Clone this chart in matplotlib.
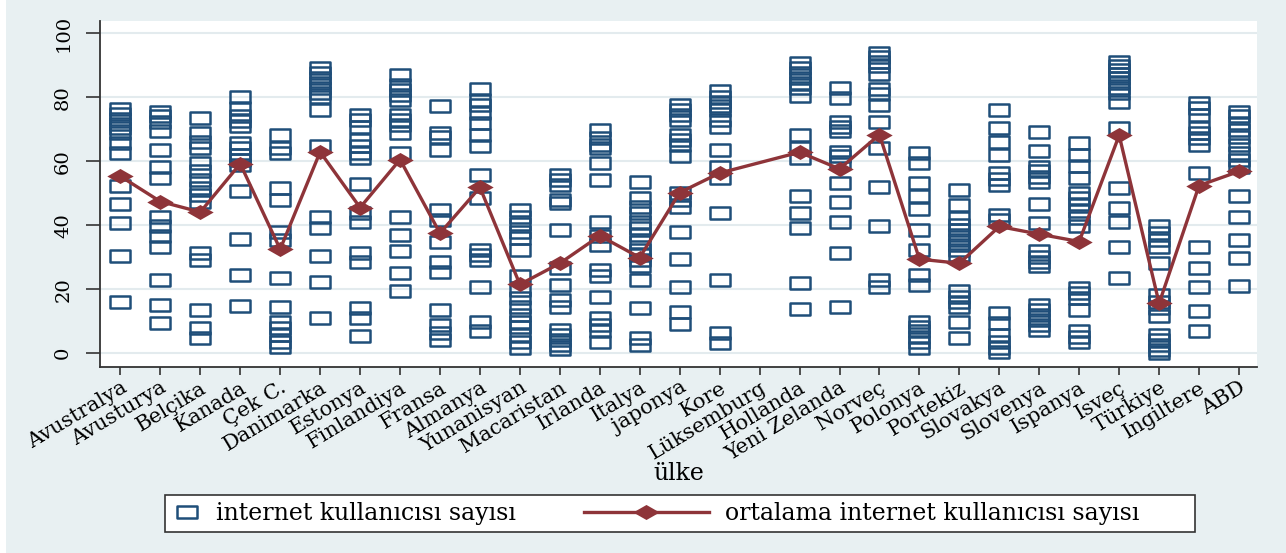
import numpy as np
import matplotlib.pyplot as plt
from matplotlib.path import Path
from matplotlib.patches import Rectangle
from matplotlib.lines import Line2D

plt.rcParams['font.family'] = ['DejaVu Serif']

ulkeler = ['Avustralya', 'Avusturya', 'Belçika', 'Kanada', 'Çek C.', 'Danimarka',
           'Estonya', 'Finlandiya', 'Fransa', 'Almanya', 'Yunanisyan', 'Macaristan',
           'Irlanda', 'Italya', 'japonya', 'Kore', 'Lüksemburg', 'Hollanda',
           'Yeni Zelanda', 'Norveç', 'Polonya', 'Portekiz', 'Slovakya', 'Slovenya',
           'Ispanya', 'Isveç', 'Türkiye', 'Ingiltere', 'ABD']

# internet kullanicisi sayisi
avustralya = [76.3, 74.7, 73.1, 71.6, 70.3, 68.8, 65.8, 62.7, 52.1, 46.6, 40.6, 30.5, 16.1]
avusturya = [75.5, 74.0, 72.4, 69.3, 63.5, 58.3, 54.7, 42.7, 39.6, 36.5, 33.3, 22.9, 15.1, 9.4]
belcika = [73.4, 68.8, 66.1, 64.1, 59.4, 56.8, 54.2, 51.6, 49.5, 47.1, 31.3, 29.2, 13.5, 7.8, 4.7]
kanada = [79.9, 76.6, 74.0, 72.6, 71.0, 65.6, 64.1, 62.0, 60.4, 58.9, 50.8, 35.7, 24.5, 14.8]
cek = [68.2, 64.1, 62.5, 51.6, 47.9, 38.0, 35.4, 23.6, 14.4, 9.9, 7.8, 5.7, 3.6, 2.1]
danimarka = [89.1, 87.5, 85.9, 84.4, 82.8, 81.3, 80.0, 76.0, 64.6, 42.7, 39.1, 30.4, 22.4, 11.1]
estonya = [74.5, 72.9, 70.8, 66.7, 64.6, 62.5, 60.9, 52.9, 43.8, 41.1, 31.3, 28.6, 14.1, 10.9, 5.4]
finlandiya = [87.0, 83.9, 82.3, 80.7, 79.2, 74.5, 72.9, 71.4, 68.8, 62.5, 42.7, 37.0, 32.0, 25.2, 19.3]
fransa = [77.1, 68.8, 67.5, 63.5, 44.8, 41.7, 34.9, 28.6, 25.5, 13.5, 8.9, 6.3, 4.2]
almanya = [82.5, 79.2, 77.6, 75.0, 71.9, 68.2, 64.6, 55.7, 48.6, 32.3, 30.7, 29.2, 20.8, 9.9, 6.8]
yunanistan = [44.8, 42.7, 40.4, 38.0, 35.9, 32.3, 24.0, 19.8, 17.2, 14.6, 12.0, 9.9, 8.3, 5.7, 3.6, 1.6]
macaristan = [55.7, 54.2, 52.6, 47.9, 46.9, 38.5, 26.6, 21.4, 16.7, 14.6, 7.3, 5.7, 4.2, 2.6, 1.3]
irlanda = [69.8, 67.2, 65.1, 64.1, 59.4, 54.0, 41.1, 36.5, 33.9, 26.0, 24.0, 17.7, 10.9, 8.9, 6.8, 3.6]
italya = [53.4, 48.4, 45.8, 43.8, 41.1, 39.1, 37.0, 34.9, 32.3, 30.7, 29.2, 27.1, 22.9, 14.1, 4.7, 2.6]
japonya = [77.6, 76.0, 74.5, 72.9, 68.2, 66.7, 65.1, 61.5, 50.0, 47.9, 45.8, 38.0, 29.4, 20.8, 13.0, 9.2]
kore = [81.8, 80.2, 78.6, 77.1, 76.0, 72.9, 70.8, 63.5, 58.3, 54.7, 43.8, 22.9, 6.3, 3.1]
luksemburg = []
hollanda = [90.6, 89.1, 87.5, 85.9, 84.4, 82.8, 80.4, 68.2, 64.1, 60.9, 49.0, 43.8, 39.1, 21.9, 13.8]
yeni_zelanda = [82.8, 79.7, 72.4, 70.8, 69.3, 63.0, 61.5, 59.9, 53.1, 47.1, 41.1, 31.3, 14.4]
norvec = [93.8, 92.5, 91.1, 89.8, 87.3, 82.5, 81.0, 77.6, 72.4, 64.1, 51.8, 39.8, 22.9, 20.8]
polonya = [62.5, 59.4, 53.1, 49.0, 45.0, 38.5, 32.3, 24.5, 21.4, 9.9, 8.3, 6.8, 5.2, 3.6, 1.6]
portekiz = [51.0, 46.4, 42.2, 40.1, 38.5, 37.0, 35.4, 33.9, 32.3, 30.7, 19.3, 17.7, 16.1, 14.6, 9.9, 4.7]
slovakya = [76.0, 70.3, 66.1, 62.0, 56.3, 54.4, 52.6, 43.2, 41.7, 12.5, 9.4, 5.7, 3.6, 1.6, 0.5]
slovenya = [69.1, 63.2, 58.3, 56.8, 55.2, 53.6, 46.6, 40.8, 31.8, 30.2, 28.6, 27.1, 15.1, 13.5, 12.0, 10.4, 8.9, 7.3]
ispanya = [65.6, 62.0, 58.5, 54.7, 50.2, 48.4, 46.6, 44.3, 42.2, 39.8, 20.3, 18.8, 17.2, 13.5, 6.8, 5.2, 3.6]
isvec = [91.1, 89.8, 88.5, 87.3, 85.9, 84.4, 82.8, 81.3, 78.6, 70.3, 51.6, 45.3, 41.1, 33.3, 23.4]
turkiye = [39.8, 37.5, 35.4, 33.3, 28.3, 18.2, 16.1, 14.1, 11.5, 5.7, 4.2, 2.6, 1.0, 0.2]
ingiltere = [78.1, 76.6, 74.5, 70.3, 68.8, 67.2, 65.1, 56.3, 33.3, 26.6, 20.8, 13.3, 7.1]
abd = [75.5, 74.0, 71.9, 69.8, 67.7, 65.1, 62.5, 60.4, 58.3, 49.0, 42.7, 35.4, 29.7, 21.0]

kullanici = [avustralya, avusturya, belcika, kanada, cek, danimarka, estonya, finlandiya,
             fransa, almanya, yunanistan, macaristan, irlanda, italya, japonya, kore,
             luksemburg, hollanda, yeni_zelanda, norvec, polonya, portekiz, slovakya,
             slovenya, ispanya, isvec, turkiye, ingiltere, abd]

ortalama = [55.3, 47.4, 44.1, 59.2, 32.5, 62.9, 45.5, 60.5, 37.5, 51.8, 21.5, 28.1,
            36.7, 29.9, 50.2, 56.3, np.nan, 62.8, 57.6, 68.3, 29.4, 28.1, 39.6, 37.2,
            34.9, 68.1, 15.6, 52.4, 56.8]

lacivert = '#1f4e79'
bordo = '#8e3439'

kare = Path([(-1, -0.58), (1, -0.58), (1, 0.58), (-1, 0.58), (-1, -0.58)],
            [Path.MOVETO, Path.LINETO, Path.LINETO, Path.LINETO, Path.CLOSEPOLY])
elmas = Path([(0, 0.57), (1, 0), (0, -0.57), (-1, 0), (0, 0.57)],
             [Path.MOVETO, Path.LINETO, Path.LINETO, Path.LINETO, Path.CLOSEPOLY])

W, H = 1286, 553
fig = plt.figure(figsize=(W / 100, H / 100), dpi=100, facecolor='#e8f0f2')
fig.add_artist(Rectangle((0, 0), 6 / W, 1, transform=fig.transFigure,
                         facecolor='white', edgecolor='none', zorder=0))
ax = fig.add_axes([100 / W, 1 - 367 / H, 1157 / W, 346 / H])
ax.set_facecolor('white')

for i, vals in enumerate(kullanici):
    if len(vals) == 0:
        continue
    ax.plot([i] * len(vals), vals, ls='none', marker=kare, ms=14.5,
            mfc='none', mec=lacivert, mew=1.8, zorder=3)

ort = np.array(ortalama)
x = np.arange(len(ulkeler))
ok = ~np.isnan(ort)
ax.plot(x[ok], ort[ok], color=bordo, lw=2.4, marker=elmas, ms=19,
        mfc=bordo, mec=bordo, mew=0, zorder=4)

ax.set_xlim(-0.51, 28.45)
ax.set_ylim(-4.3, 103.8)
ax.set_yticks([0, 20, 40, 60, 80, 100])
ax.set_xticks(x)
ax.set_xticklabels(ulkeler, rotation=31, ha='right', va='top',
                   rotation_mode='anchor', fontsize=15)
ax.tick_params(axis='x', length=6, width=1.2, color='#333333', pad=2)
ax.tick_params(axis='y', length=10, width=1.2, color='#333333', pad=10,
               labelsize=14, labelrotation=90)
for t in ax.get_yticklabels():
    t.set_va('center')

ax.yaxis.grid(True, color='#e3ebee', lw=1.5)
ax.set_axisbelow(True)
for s in ['top', 'right']:
    ax.spines[s].set_visible(False)
for s in ['left', 'bottom']:
    ax.spines[s].set_color('#333333')
    ax.spines[s].set_linewidth(1.3)

ax.set_xlabel('ülke', fontsize=17)
ax.xaxis.set_label_coords(0.5, (367 - 474) / 346)
ax.xaxis.label.set_va('center')

# lejant
fig.add_artist(Rectangle((165 / W, 1 - 532 / H), (1195 - 165) / W, 37 / H,
                         transform=fig.transFigure, facecolor='white',
                         edgecolor='#333333', lw=1.2, zorder=2))
h1 = Line2D([], [], ls='none', marker=kare, ms=14.5, mfc='none', mec=lacivert, mew=1.8)
h2 = Line2D([], [], color=bordo, lw=2.4, marker=elmas, ms=19, mfc=bordo, mew=0)
yc = 1 - 513.5 / H
fig.legend([h1], ['internet kullanıcısı sayısı'], loc='center left',
           bbox_to_anchor=(157 / W, yc), frameon=False, borderpad=0,
           handlelength=1.5, handletextpad=0.5, fontsize=17)
fig.legend([h2], ['ortalama internet kullanıcısı sayısı'], loc='center left',
           bbox_to_anchor=(572 / W, yc), frameon=False, borderpad=0,
           handlelength=5.3, handletextpad=0.7, numpoints=1, fontsize=17)

fig.savefig('out.png', dpi=100)
